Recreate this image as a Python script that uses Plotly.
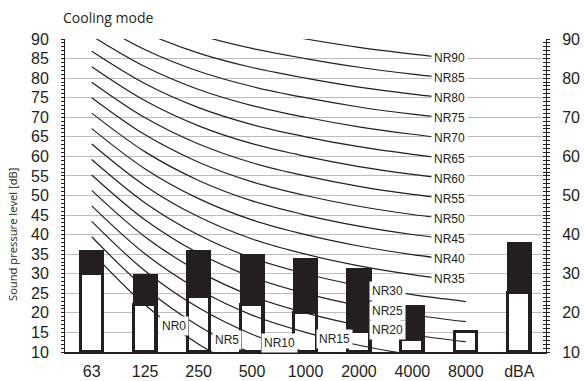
import numpy as np
import plotly.graph_objects as go

# ---------------- data ----------------
categories = ["63", "125", "250", "500", "1000", "2000", "4000", "8000", "dBA"]
level_total = [36, 30, 36, 35, 34, 31.5, 22, 15, 38]      # black bar tops
level_low = [30, 22, 24, 22, 20, 15, 13, 15, 25]          # white bar tops

nr_levels = [0, 5, 10, 15, 20, 25, 30, 35, 40, 45, 50, 55, 60, 65, 70, 75, 80, 85, 90]
nr_63 = [35.5, 39.45, 43.4, 47.35, 51.3, 55.25, 59.2, 63.15, 67.1, 71.05, 75.0, 78.95, 82.9, 86.85, 90.8, 94.75, 98.7, 102.65, 106.6]
nr_125 = [22.0, 26.35, 30.7, 35.05, 39.4, 43.75, 48.1, 52.45, 56.8, 61.15, 65.5, 69.85, 74.2, 78.55, 82.9, 87.25, 91.6, 95.95, 100.3]
nr_250 = [12.0, 16.65, 21.3, 25.95, 30.6, 35.25, 39.9, 44.55, 49.2, 53.85, 58.5, 63.15, 67.8, 72.45, 77.1, 81.75, 86.4, 91.05, 95.7]
nr_500 = [4.8, 9.67, 14.54, 19.41, 24.28, 29.15, 34.02, 38.89, 43.76, 48.63, 53.5, 58.37, 63.24, 68.11, 72.98, 77.85, 82.72, 87.59, 92.46]
nr_1000 = [0, 5, 10, 15, 20, 25, 30, 35, 40, 45, 50, 55, 60, 65, 70, 75, 80, 85, 90]
nr_2000 = [-3.5, 1.575, 6.65, 11.725, 16.8, 21.875, 26.95, 32.025, 37.1, 42.175, 47.25, 52.325, 57.4, 62.475, 67.55, 72.625, 77.7, 82.775, 87.85]
nr_4000 = [-6.1, -0.975, 4.15, 9.275, 14.4, 19.525, 24.65, 29.775, 34.9, 40.025, 45.15, 50.275, 55.4, 60.525, 65.65, 70.775, 75.9, 81.025, 86.15]
nr_8000 = [-8.0, -2.85, 2.3, 7.45, 12.6, 17.75, 22.9, 28.05, 33.2, 38.35, 43.5, 48.65, 53.8, 58.95, 64.1, 69.25, 74.4, 79.55, 84.7]

y_ticks_left = [10, 15, 20, 25, 30, 35, 40, 45, 50, 55, 60, 65, 70, 75, 80, 85, 90]
y_ticks_right = [10, 20, 30, 40, 50, 60, 70, 80, 90]

# ---------------- layout helpers (positions / styles) ----------------
label_x = [1.54, 2.53, 3.51, 4.55, 5.54, 5.54, 5.54] + [6.69] * 12

DARK = "#231f20"
TICK_FONT = dict(family="Liberation Sans, Arial, sans-serif", size=16, color=DARK)

bands = [nr_63, nr_125, nr_250, nr_500, nr_1000, nr_2000, nr_4000, nr_8000]
xpos = list(range(len(categories)))
band_x = xpos[:len(bands)]

fig = go.Figure()

# NR curves
curves = []
for i, nr in enumerate(nr_levels):
    ys = [b[i] for b in bands]
    curves.append(ys)
    fig.add_trace(go.Scatter(
        x=band_x, y=ys, mode="lines",
        line=dict(color=DARK, width=1.2, shape="spline", smoothing=1.0),
        showlegend=False, hoverinfo="skip"))

# bars
base = 10
fig.add_trace(go.Bar(
    x=xpos, y=[v - base for v in level_total], base=base, width=0.47,
    marker=dict(color=DARK, line=dict(width=0)), showlegend=False))
fig.add_trace(go.Bar(
    x=xpos, y=[v - base for v in level_low], base=base, width=0.412,
    marker=dict(color="white", line=dict(color=DARK, width=3)), showlegend=False))

# invisible traces to anchor the right-hand axes
fig.add_trace(go.Scatter(x=[0], y=[50], yaxis="y2", mode="markers",
                         marker=dict(opacity=0), showlegend=False, hoverinfo="skip"))
fig.add_trace(go.Scatter(x=[0], y=[50], yaxis="y3", mode="markers",
                         marker=dict(opacity=0), showlegend=False, hoverinfo="skip"))

# NR labels
for i, nr in enumerate(nr_levels):
    lx = label_x[i]
    ly = float(np.interp(lx, band_x, curves[i]))
    fig.add_annotation(x=lx, y=ly, text=f"NR{nr}", showarrow=False,
                       bgcolor="white", borderpad=2,
                       font=dict(family="Liberation Sans, Arial, sans-serif", size=12, color=DARK))

# title & y title
fig.add_annotation(xref="paper", yref="paper", x=-0.009, y=1.07, xanchor="left", yanchor="middle",
                   text="Cooling mode", showarrow=False,
                   font=dict(family="Open Sans, sans-serif", size=14, color=DARK))
fig.add_annotation(xref="paper", yref="paper", x=-0.108, y=0.374, xanchor="center", yanchor="middle",
                   text="Sound pressure level [dB]", textangle=-90, showarrow=False,
                   font=dict(family="Open Sans, sans-serif", size=11.2, color=DARK))

fig.update_layout(
    width=584, height=381,
    margin=dict(l=65, r=38, t=39, b=29, autoexpand=False),
    paper_bgcolor="white", plot_bgcolor="white",
    barmode="overlay", bargap=0,
    xaxis=dict(range=[-0.5, 8.5], tickvals=xpos, ticktext=categories, automargin=False,
               showgrid=False, zeroline=False, showline=True, linecolor=DARK, linewidth=1.5,
               ticks="", tickfont=TICK_FONT, ticklabelstandoff=4),
    yaxis=dict(range=[10, 90], tickvals=y_ticks_left, showgrid=True, gridcolor="#bdbdbd", gridwidth=1,
               automargin=False,
               zeroline=False, showline=True, linecolor=DARK, linewidth=1,
               ticks="outside", ticklen=3, tickcolor=DARK, tickfont=TICK_FONT, ticklabelstandoff=9,
               minor=dict(dtick=1, tick0=10, ticks="outside", ticklen=3, tickcolor=DARK, showgrid=False)),
    yaxis2=dict(range=[10, 90], tickvals=y_ticks_right, overlaying="y", side="right", automargin=False,
                showgrid=False, zeroline=False, showline=True, linecolor=DARK, linewidth=1,
                ticks="outside", ticklen=3, tickcolor=DARK, tickfont=TICK_FONT, ticklabelstandoff=9,
                minor=dict(dtick=1, tick0=10, ticks="outside", ticklen=3, tickcolor=DARK, showgrid=False)),
    yaxis3=dict(range=[10, 90], tickvals=y_ticks_right, overlaying="y", side="right", automargin=False,
                showgrid=False, zeroline=False, showline=False, showticklabels=False,
                ticks="inside", ticklen=3, tickcolor=DARK,
                minor=dict(dtick=1, tick0=10, ticks="inside", ticklen=3, tickcolor=DARK, showgrid=False)),
)

fig.write_html("out.html")
